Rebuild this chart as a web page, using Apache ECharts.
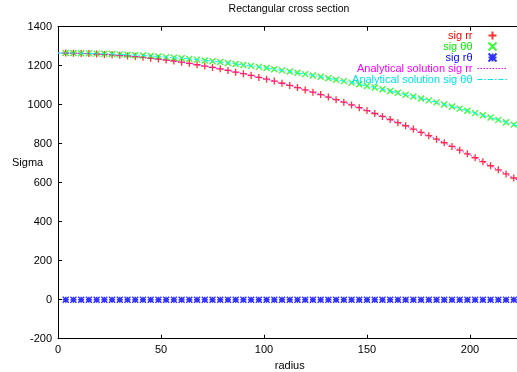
<!DOCTYPE html>
<html><head><meta charset="utf-8">
<script src="https://cdn.jsdelivr.net/npm/echarts@6/dist/echarts.min.js"></script>
<style>html,body{margin:0;padding:0;background:#fff}#c{width:517px;height:372px}</style>
</head><body><div id="c"></div>
<script>
// radius sample points (analytical from 0, numerical from 3.75)
const radius = [0,3.75,7.5,11.25,15,18.75,22.5,26.25,30,33.75,37.5,41.25,45,48.75,52.5,56.25,60,63.75,67.5,71.25,75,78.75,82.5,86.25,90,93.75,97.5,101.25,105,108.75,112.5,116.25,120,123.75,127.5,131.25,135,138.75,142.5,146.25,150,153.75,157.5,161.25,165,168.75,172.5,176.25,180,183.75,187.5,191.25,195,198.75,202.5,206.25,210,213.75,217.5,221.25,225];
const sigRR = [1265,1265,1264,1263,1262,1260,1258,1256,1253,1250,1247,1243,1238,1234,1229,1224,1218,1212,1205,1198,1191,1184,1176,1167,1159,1150,1140,1131,1121,1110,1099,1088,1076,1064,1052,1039,1026,1013,999,985,970,955,940,924,908,892,875,858,841,823,805,786,767,748,728,708,687,666,645,624,602];
const sigTT = [1265,1265,1265,1264,1263,1262,1261,1260,1258,1256,1254,1252,1250,1247,1244,1241,1238,1235,1231,1227,1223,1219,1214,1209,1204,1199,1194,1188,1182,1176,1170,1164,1157,1150,1143,1136,1128,1121,1113,1105,1096,1088,1079,1070,1061,1051,1042,1032,1022,1012,1001,991,980,969,957,946,934,922,910,898,885];
const sigRT = [0,0,0,0,0,0,0,0,0,0,0,0,0,0,0,0,0,0,0,0,0,0,0,0,0,0,0,0,0,0,0,0,0,0,0,0,0,0,0,0,0,0,0,0,0,0,0,0,0,0,0,0,0,0,0,0,0,0,0,0,0];
const xTicks = [0,50,100,150,200];
const yTicks = [-200,0,200,400,600,800,1000,1200,1400];

const pts = (vals) => radius.slice(1, 60).map((r, i) => [r, vals[i + 1]]);
const line = (vals) => radius.map((r, i) => [r, vals[i]]);

const FONT = 'Liberation Sans';
const plusPath = 'path://M0,5L10,5M5,0L5,10';
const crossPath = 'path://M0,0L10,10M10,0L0,10';
const starPath = 'path://M0,0L10,10M10,0L0,10M0,5L10,5M5,0L5,10';
const DOT = [1.5, 1.5];
const DASHDOT = [5, 2, 1.5, 2];

const chart = echarts.init(document.getElementById('c'), null, {renderer: 'canvas'});
const axisCommon = {
  axisLine: {show: true, onZero: false, lineStyle: {color: '#000', width: 1}},
  axisTick: {show: true, inside: true, length: 4, lineStyle: {color: '#000'}},
  splitLine: {show: false}
};
const hiddenSym = {color: 'rgba(0,0,0,0)', borderWidth: 0, opacity: 0};
chart.setOption({
  animation: false,
  backgroundColor: '#fff',
  title: {text: 'Rectangular cross section', left: 289, top: 4, padding: 0, textAlign: 'center',
    textStyle: {fontFamily: FONT, fontSize: 10.5, fontWeight: 'normal', color: '#000'}},
  graphic: [{type: 'text', left: 12, top: 157,
    style: {text: 'Sigma', fontFamily: FONT, fontSize: 11, fill: '#000'}}],
  grid: {left: 58, right: -4.5, top: 26.7, bottom: 33.3, containLabel: false, outerBoundsMode: 'none'},
  legend: {
    orient: 'vertical', right: 9, top: 30, align: 'right', padding: 0,
    itemWidth: 30, itemHeight: 8, itemGap: 0, itemTextGap: 5,
    textStyle: {fontFamily: FONT, fontSize: 11, lineHeight: 11},
    data: [
      {name: 'sig rr', textStyle: {color: '#ff0000'}},
      {name: 'sig θθ', textStyle: {color: '#00ee00'}},
      {name: 'sig rθ', textStyle: {color: '#0000ff'}},
      {name: 'Analytical solution sig rr', textStyle: {color: '#ff00ff'},
        itemStyle: hiddenSym, lineStyle: {color: '#ff00ff', width: 1, type: DOT}},
      {name: 'Analytical solution sig θθ', textStyle: {color: '#00e5e5'},
        itemStyle: hiddenSym, lineStyle: {color: '#00e5e5', width: 1, type: DASHDOT}}
    ]
  },
  xAxis: [
    Object.assign({type: 'value', min: 0, max: 225, interval: 50, name: 'radius',
      nameLocation: 'middle', nameGap: 22, nameMoveOverlap: false,
      nameTextStyle: {fontFamily: FONT, fontSize: 11, color: '#000'},
      axisLabel: {fontFamily: FONT, fontSize: 11, color: '#000', margin: 6,
        customValues: xTicks}}, axisCommon),
    Object.assign({type: 'value', min: 0, max: 225, interval: 50, position: 'top',
      axisLabel: {show: false}}, axisCommon)
  ],
  yAxis: [
    Object.assign({type: 'value', min: -200, max: 1400, interval: 200,
      axisLabel: {fontFamily: FONT, fontSize: 11, color: '#000', margin: 6,
        customValues: yTicks, formatter: (v) => String(v)}}, axisCommon)
  ],
  series: [
    {name: 'sig rr', type: 'scatter', data: pts(sigRR), symbol: plusPath, symbolSize: 7,
      itemStyle: {color: 'rgba(0,0,0,0)', borderColor: '#ff0000', borderWidth: 1.3}},
    {name: 'sig θθ', type: 'scatter', data: pts(sigTT), symbol: crossPath, symbolSize: 6,
      itemStyle: {color: 'rgba(0,0,0,0)', borderColor: '#00ff00', borderWidth: 1.3}},
    {name: 'sig rθ', type: 'scatter', data: pts(sigRT), symbol: starPath, symbolSize: 6,
      itemStyle: {color: 'rgba(0,0,0,0)', borderColor: '#0000ff', borderWidth: 1.5}},
    {name: 'Analytical solution sig rr', type: 'line', data: line(sigRR), symbol: 'none',
      lineStyle: {color: '#ff00ff', width: 1, type: DOT}, itemStyle: {color: '#ff00ff'}},
    {name: 'Analytical solution sig θθ', type: 'line', data: line(sigTT), symbol: 'none',
      lineStyle: {color: '#00ffff', width: 1, type: DASHDOT}, itemStyle: {color: '#00ffff'}}
  ]
});
</script></body></html>
